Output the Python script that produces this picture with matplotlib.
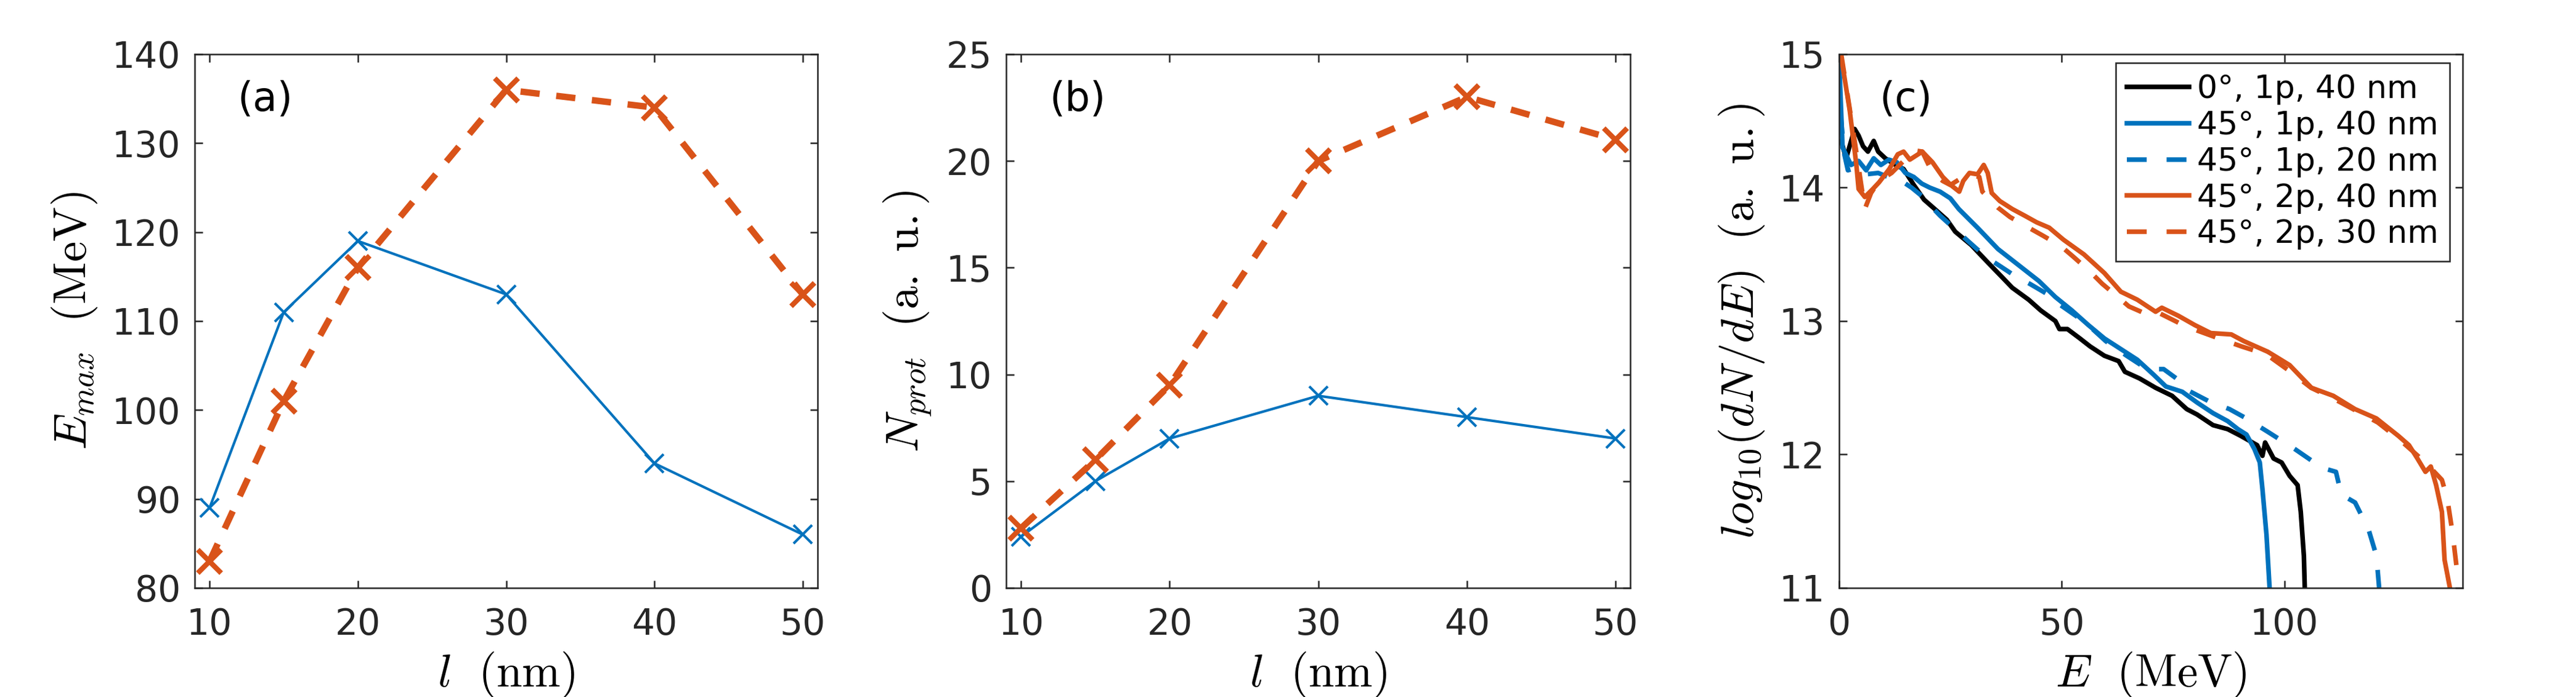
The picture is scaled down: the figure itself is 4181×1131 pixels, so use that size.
import numpy as np
import matplotlib
matplotlib.use('Agg')
from matplotlib import pyplot as plt

BLUE = '#0072BD'
RED = '#D95319'
AXC = '#262626'

# panel (a) and (b): thickness scan
l_nm = [10, 15, 20, 30, 40, 50]
emax_1p = [89, 111, 119, 113, 94, 86]
emax_2p = [83, 101, 116, 136, 134, 113]
nprot_1p = [2.4, 5, 7, 9, 8, 7]
nprot_2p = [2.8, 6, 9.5, 20, 23, 21]

# panel (c): spectra
E_0_1p_40 = [0.5, 1.6, 3.5, 4.4, 5.4, 6.5, 7.8, 8.8, 10.4, 12.7, 14.5, 16.8, 19.1, 21.5, 24.2,
             26.1, 29.7, 33.4, 36.6, 38.9, 42.6, 45.3, 48.6, 49.5, 51.3, 54.1, 56.4, 59.6,
             62.8, 64.2, 67.5, 71.1, 74.8, 78.1, 80.4, 84.0, 87.3, 90.2, 93.9, 95.1, 95.7,
             97.6, 99.4, 101.2, 103.0, 103.7, 104.4, 104.6]
S_0_1p_40 = [14.35, 14.22, 14.44, 14.39, 14.31, 14.27, 14.35, 14.27, 14.22, 14.17, 14.14,
             14.02, 13.91, 13.84, 13.76, 13.67, 13.57, 13.44, 13.33, 13.25, 13.16, 13.08,
             13.00, 12.94, 12.94, 12.87, 12.81, 12.74, 12.70, 12.62, 12.57, 12.50, 12.44,
             12.34, 12.30, 12.22, 12.19, 12.14, 12.07, 11.99, 12.09, 11.97, 11.94, 11.84,
             11.77, 11.57, 11.24, 11.0]

E_45_1p_40 = [0.0, 0.3, 0.8, 2.7, 4.4, 6.1, 7.8, 9.4, 11.2, 13.0, 14.9, 16.8, 18.6, 20.4,
              22.7, 25.0, 26.9, 29.3, 31.1, 35.7, 40.3, 44.9, 48.6, 52.3, 56.0, 59.6, 63.3,
              67.0, 70.6, 73.4, 77.1, 80.4, 84.0, 87.3, 89.6, 91.5, 93.3, 94.5, 95.1, 96.0,
              96.7]
S_45_1p_40 = [15.0, 14.73, 14.30, 14.17, 14.20, 14.13, 14.22, 14.17, 14.21, 14.19, 14.11,
              14.08, 14.03, 14.00, 13.97, 13.92, 13.84, 13.76, 13.70, 13.54, 13.42, 13.30,
              13.18, 13.08, 12.97, 12.87, 12.79, 12.71, 12.60, 12.51, 12.47, 12.39, 12.31,
              12.25, 12.19, 12.15, 12.04, 11.94, 11.74, 11.40, 11.0]

E_45_1p_20 = [0.0, 0.5, 1.2, 2.0, 4.0, 6.0, 8.8, 11.0, 14.5, 16.3, 18.5, 20.4, 22.7, 26.0,
              29.3, 33.0, 35.8, 39.9, 42.8, 47.4, 49.3, 55.3, 59.9, 64.6, 69.2, 72.9, 77.0,
              78.4, 83.0, 87.7, 91.5, 96.3, 102.4, 108.5, 111.6, 112.8, 115.9, 118.9, 120.7,
              121.3]
S_45_1p_20 = [14.85, 14.5, 14.25, 14.13, 14.15, 14.10, 14.11, 14.08, 14.04, 14.00, 13.94,
              13.87, 13.79, 13.69, 13.59, 13.48, 13.42, 13.33, 13.28, 13.19, 13.13, 12.99,
              12.85, 12.74, 12.64, 12.64, 12.54, 12.48, 12.40, 12.34, 12.27, 12.17, 12.04,
              11.90, 11.87, 11.70, 11.64, 11.44, 11.24, 11.0]

E_45_2p_40 = [0.4, 2.4, 3.9, 4.4, 5.8, 6.7, 7.6, 9.0, 11.3, 13.2, 14.5, 15.9, 17.3, 18.7,
              21.0, 23.3, 25.1, 27.0, 27.9, 29.3, 31.1, 32.5, 33.4, 34.3, 36.1, 38.9, 41.7,
              44.4, 47.2, 50.4, 55.0, 59.6, 63.3, 67.0, 71.1, 72.5, 76.2, 79.9, 83.5, 88.1,
              90.9, 96.3, 101.2, 106.1, 111.0, 115.9, 120.7, 125.6, 128.0, 129.9, 131.7,
              132.9, 134.1, 135.4, 136.0, 137.2]
S_45_2p_40 = [15.0, 14.58, 14.17, 13.99, 13.93, 13.96, 13.99, 14.04, 14.14, 14.25, 14.27,
              14.21, 14.24, 14.27, 14.19, 14.08, 14.02, 13.97, 14.05, 14.11, 14.10, 14.17,
              14.11, 13.96, 13.90, 13.84, 13.79, 13.74, 13.70, 13.61, 13.50, 13.36, 13.22,
              13.16, 13.07, 13.10, 13.04, 12.97, 12.91, 12.90, 12.85, 12.77, 12.67, 12.50,
              12.44, 12.34, 12.27, 12.14, 12.07, 11.97, 11.87, 11.91, 11.77, 11.57, 11.21,
              11.0]

E_45_2p_30 = [0.5, 3.2, 5.8, 7.2, 9.0, 11.8, 14.5, 16.8, 18.7, 21.0, 23.3, 25.0, 27.4, 29.3,
              31.5, 32.2, 35.7, 38.4, 42.6, 45.8, 49.9, 52.7, 56.4, 59.1, 62.3, 65.1, 69.2,
              71.9, 77.9, 85.3, 90.4, 96.0, 101.0, 106.0, 111.0, 116.0, 121.0, 125.6, 131.7,
              135.4, 136.6, 137.8, 139.0]
S_45_2p_30 = [15.0, 14.42, 13.84, 13.96, 14.05, 14.11, 14.20, 14.28, 14.27, 14.11, 14.05,
              14.02, 14.07, 14.10, 14.08, 13.97, 13.85, 13.78, 13.70, 13.64, 13.56, 13.48,
              13.37, 13.28, 13.19, 13.11, 13.05, 13.06, 12.96, 12.87, 12.81, 12.75, 12.63,
              12.50, 12.42, 12.33, 12.24, 12.12, 11.94, 11.81, 11.67, 11.41, 11.07]

plt.rcParams['font.family'] = ['DejaVu Sans']
plt.rcParams['mathtext.fontset'] = 'cm'
plt.rcParams['axes.linewidth'] = 0.6
plt.rcParams['axes.edgecolor'] = AXC

fig = plt.figure(figsize=(4181 / 300, 1131 / 300), dpi=300)
axes = [fig.add_axes([0.0756, 0.1565, 0.2418, 0.7657]),
        fig.add_axes([0.3906, 0.1565, 0.2423, 0.7657]),
        fig.add_axes([0.7139, 0.1565, 0.2420, 0.7657])]

for ax in axes:
    ax.tick_params(direction='in', top=True, right=True, length=3, width=0.6,
                   labelsize=14, colors=AXC)
    ax.tick_params(axis='x', pad=7.5)
    ax.tick_params(axis='y', pad=5.5)

lab = 18
letter = 15.5
dash2p = (0, (3.0, 2.6))

ax = axes[0]
ax.plot(l_nm, emax_1p, '-x', color=BLUE, lw=1.0, ms=7, mew=1.0)
ax.plot(l_nm, emax_2p, 'x', color=RED, ls=dash2p, lw=2.5, ms=9, mew=2.0)
ax.set_xlim(9, 51)
ax.set_ylim(80, 140)
ax.set_xticks([10, 20, 30, 40, 50])
ax.set_yticks(range(80, 141, 10))
ax.set_xlabel(r'$l\ \ (\mathrm{nm})$', fontsize=lab, labelpad=3)
ax.set_ylabel(r'$E_{max}\ \ (\mathrm{MeV})$', fontsize=lab, labelpad=5)
ax.text(0.113, 0.915, '(a)', transform=ax.transAxes, fontsize=letter,
        ha='center', va='center')

ax = axes[1]
ax.plot(l_nm, nprot_1p, '-x', color=BLUE, lw=1.0, ms=7, mew=1.0)
ax.plot(l_nm, nprot_2p, 'x', color=RED, ls=dash2p, lw=2.5, ms=9, mew=2.0)
ax.set_xlim(9, 51)
ax.set_ylim(0, 25)
ax.set_xticks([10, 20, 30, 40, 50])
ax.set_yticks(range(0, 26, 5))
ax.set_xlabel(r'$l\ \ (\mathrm{nm})$', fontsize=lab, labelpad=3)
ax.set_ylabel(r'$N_{prot}\ \ (\mathrm{a.\ u.})$', fontsize=lab, labelpad=5)
ax.text(0.115, 0.915, '(b)', transform=ax.transAxes, fontsize=letter,
        ha='center', va='center')

ax = axes[2]
dashc = (0, (4.3, 4.3))
ax.plot(E_0_1p_40, S_0_1p_40, color='black', lw=1.8, label='0°, 1p, 40 nm')
ax.plot(E_45_1p_40, S_45_1p_40, color=BLUE, lw=1.8, label='45°, 1p, 40 nm')
ax.plot(E_45_1p_20, S_45_1p_20, color=BLUE, lw=1.8, ls=dashc, label='45°, 1p, 20 nm')
ax.plot(E_45_2p_40, S_45_2p_40, color=RED, lw=1.8, label='45°, 2p, 40 nm')
ax.plot(E_45_2p_30, S_45_2p_30, color=RED, lw=1.8, ls=dashc, label='45°, 2p, 30 nm')
ax.set_xlim(0, 140)
ax.set_ylim(11, 15)
ax.set_xticks([0, 50, 100])
ax.set_yticks([11, 12, 13, 14, 15])
ax.set_xlabel(r'$E\ \ (\mathrm{MeV})$', fontsize=lab, labelpad=3)
ax.set_ylabel(r'$log_{10}(dN/dE)\ \ (\mathrm{a.\ u.})$', fontsize=lab, labelpad=5)
ax.text(0.107, 0.915, '(c)', transform=ax.transAxes, fontsize=letter,
        ha='center', va='center')
leg = ax.legend(loc='upper right', bbox_to_anchor=(0.980, 0.984), borderaxespad=0,
                fontsize=12.5, fancybox=False, framealpha=1, edgecolor=AXC,
                handlelength=1.95, handletextpad=0.25, labelspacing=0.17,
                borderpad=0.35)
leg.get_frame().set_linewidth(0.6)

fig.savefig('out.png', dpi=300, facecolor='white')
